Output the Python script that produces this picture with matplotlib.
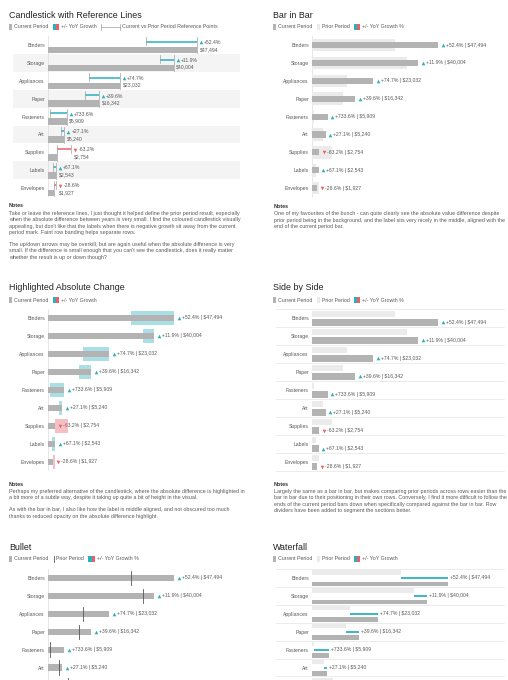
import matplotlib
matplotlib.use("Agg")
import matplotlib.pyplot as plt
from matplotlib.patches import Rectangle
from matplotlib.transforms import offset_copy

W, H = 508, 680

categories = ["Binders", "Storage", "Appliances", "Paper", "Fasteners",
              "Art", "Supplies", "Labels", "Envelopes"]
current = [47494, 40004, 23032, 16342, 5909, 5240, 2754, 2543, 1927]
prior = [31164, 35750, 13184, 11706, 709, 4123, 7484, 1522, 2699]
growth = [52.4, 11.9, 74.7, 39.6, 733.6, 27.1, -63.2, 67.1, -28.6]

GRAY = "#b3b3b3"
LIGHT = "#ebebeb"
TEAL = "#2bb0be"
RED = "#e8606a"
TXT = "#5a5a5a"
DARK = "#222222"

plt.rcParams["font.family"] = ["Liberation Sans", "DejaVu Sans"]

fig = plt.figure(figsize=(W / 100, H / 100), dpi=100)
bg = fig.add_axes([0, 0, 1, 1])
bg.set_zorder(-1)
bg.set_xlim(0, W)
bg.set_ylim(H, 0)
bg.axis("off")
renderer = fig.canvas.get_renderer()

PX = 0.72  # points per pixel at dpi 100


def make_axes(x0, row0, xmax, rowh=17.9, width=192, axline=True):
    top = row0 - 0.5 * rowh
    height = 9 * rowh
    ax = fig.add_axes([x0 / W, 1 - (top + height) / H, width / W, height / H])
    ax.set_facecolor("none")
    ax.set_xlim(0, xmax)
    ax.set_ylim(8.5, -0.5)
    ax.set_yticks(range(len(categories)))
    ax.set_yticklabels(categories, fontsize=3.7, color=TXT)
    ax.tick_params(axis="y", length=0, pad=2.2)
    ax.set_xticks([])
    for s in ax.spines.values():
        s.set_visible(False)
    if axline:
        ax.axvline(0, color="#dcdcdc", lw=0.5, zorder=0.5)
    return ax


def value_label(ax, x, y, g, text, dx=3, arrow=True, z=4):
    col = TEAL if g > 0 else RED
    if arrow:
        tr = offset_copy(ax.transData, fig=fig, x=dx + 1.5, y=0, units="dots")
        ax.plot([x], [y], marker="^" if g > 0 else "v", ms=2.6, color=col,
                mew=0, transform=tr, clip_on=False, zorder=z)
        dx += 4.5
    ax.annotate(text, xy=(x, y), xytext=(dx * PX, 0), textcoords="offset points",
                va="center", ha="left", fontsize=3.7, color=TXT, zorder=z,
                annotation_clip=False)


def title(x, y, s):
    bg.text(x, y, s, fontsize=6.4, color=DARK, va="center", ha="left")


def legend(x, y, items):
    for kind, lab in items:
        if kind == "cur":
            bg.add_patch(Rectangle((x, y - 2.75), 3.4, 5.5, color=GRAY, lw=0))
            x += 3.4
        elif kind == "pri":
            bg.add_patch(Rectangle((x, y - 2.75), 3.4, 5.5, color=LIGHT, lw=0))
            x += 3.4
        elif kind == "grow":
            bg.add_patch(Rectangle((x, y - 2.75), 3.4, 5.5, color=TEAL, lw=0))
            bg.add_patch(Rectangle((x + 3.4, y - 2.75), 3.4, 5.5, color=RED, lw=0))
            x += 6.8
        elif kind == "ref":
            bg.plot([x, x + 19], [y, y], color="#a0a0a0", lw=0.5)
            bg.plot([x, x], [y - 2.7, y + 2.7], color="#a0a0a0", lw=0.5)
            bg.plot([x + 19, x + 19], [y - 2.7, y + 2.7], color="#a0a0a0", lw=0.5)
            x += 19
        elif kind == "priline":
            bg.plot([x + 1, x + 1], [y - 2.75, y + 2.75], color="#555555", lw=0.6)
            x += 2
        x += 1.8
        t = bg.text(x, y, lab, fontsize=3.8, color=TXT, va="center", ha="left")
        x += t.get_window_extent(renderer).width + 4


def notes(x, y, paragraphs, first=7.5, step=6.6, para=11.5):
    bg.text(x, y, "Notes", fontsize=3.85, color="#333333", weight="bold",
            va="center", ha="left")
    y += first
    for p, lines in enumerate(paragraphs):
        if p > 0:
            y += para - step
        for line in lines:
            bg.text(x, y, line, fontsize=3.85, color=TXT, va="center", ha="left")
            y += step


def fmt(g, v):
    return f"{g:+.1f}% | ${v:,}"


n = len(categories)

# ---- Candlestick with Reference Lines
title(9, 15, "Candlestick with Reference Lines")
legend(9, 27, [("cur", "Current Period"), ("grow", "+/- YoY Growth"),
               ("ref", "Current vs Prior Period Reference Points")])
ax1 = make_axes(48, 45, 61200)
for i in range(n):
    if i % 2 == 1:
        ax1.axhspan(i - 0.5, i + 0.5, xmin=-0.182, xmax=1, color="#f4f4f4",
                    lw=0, zorder=0, clip_on=False)
    col = TEAL if growth[i] > 0 else RED
    ax1.barh(i + 0.28, current[i], height=0.36, color=GRAY, zorder=2)
    ax1.plot([prior[i], current[i]], [i - 0.18, i - 0.18], color=col, lw=1.1,
             solid_capstyle="butt", zorder=3)
    ax1.plot([prior[i], prior[i]], [i - 0.42, i + 0.02], color="#a0a0a0", lw=0.5, zorder=3)
    ax1.plot([current[i], current[i]], [i - 0.42, i + 0.46], color="#a0a0a0", lw=0.5, zorder=3)
    xl = max(prior[i], current[i])
    value_label(ax1, xl, i - 0.14, growth[i], f"{growth[i]:+.1f}%", dx=2.5)
    ax1.annotate(f"${current[i]:,}", xy=(xl, i + 0.24), xytext=(2.5 * PX, 0),
                 textcoords="offset points", va="center", ha="left",
                 fontsize=3.7, color=TXT)
notes(9, 205.5, [
    ["Take or leave the reference lines, I just thought it helped define the prior period result, especially",
     "when the absolute difference between years is very small. I find the coloured candlestick visually",
     "appealing, but don't like that the labels when there is negative growth sit away from the current",
     "period mark. Faint row banding helps separate rows."],
    ["The up/down arrows may be overkill, but are again useful when the absolute difference is very",
     "small. If the difference is small enough that you can't see the candlestick, does it really matter",
     "whether the result is up or down though?"],
])

# ---- Bar in Bar
title(273, 15, "Bar in Bar")
legend(273, 27, [("cur", "Current Period"), ("pri", "Prior Period"),
                 ("grow", "+/- YoY Growth %")])
ax2 = make_axes(312, 45, 72370)
for i in range(n):
    ax2.barh(i, prior[i], height=0.7, color=LIGHT, zorder=1)
    ax2.barh(i, current[i], height=0.34, color=GRAY, zorder=2)
    value_label(ax2, current[i], i, growth[i], fmt(growth[i], current[i]))
notes(274, 206, [
    ["One of my favourites of the bunch - can quite clearly see the absolute value difference despite",
     "prior period being in the background, and the label sits very nicely in the middle, aligned with the",
     "end of the current period bar."],
])

# ---- Highlighted Absolute Change
title(9, 287.3, "Highlighted Absolute Change")
legend(9, 300, [("cur", "Current Period"), ("grow", "+/- YoY Growth")])
ax3 = make_axes(48, 318, 72370, rowh=18)
for i in range(n):
    col = TEAL if growth[i] > 0 else RED
    lo = min(prior[i], current[i])
    ax3.barh(i, abs(current[i] - prior[i]), left=lo, height=0.74, color=col,
             alpha=0.4, lw=0, zorder=2)
    ax3.barh(i, current[i], height=0.34, color=GRAY, zorder=3)
    value_label(ax3, current[i], i, growth[i], fmt(growth[i], current[i]), dx=3.5, z=1)
notes(9, 485, [
    ["Perhaps my preferred alternative of the candlestick, where the absolute difference is highlighted in",
     "a bit more of a subtle way, despite it taking up quite a bit of height in the visual."],
    ["As with the bar in bar, I also like how the label is middle aligned, and not obscured too much",
     "thanks to reduced opacity on the absolute difference highlight."],
], first=6.3, para=12)

# ---- Side by Side
title(273, 287.3, "Side by Side")
legend(273, 300, [("cur", "Current Period"), ("pri", "Prior Period"),
                  ("grow", "+/- YoY Growth %")])
ax4 = make_axes(312, 318, 72370, rowh=18, axline=False)
for k in range(n + 1):
    ax4.axhline(k - 0.5, xmin=-0.1875, xmax=1, color="#e4e4e4", lw=0.5,
                zorder=0, clip_on=False)
for i in range(n):
    ax4.barh(i - 0.22, prior[i], height=0.32, color=LIGHT, zorder=1)
    ax4.barh(i + 0.25, current[i], height=0.36, color=GRAY, zorder=2)
    value_label(ax4, current[i], i + 0.25, growth[i], fmt(growth[i], current[i]))
notes(274, 485, [
    ["Largely the same as a bar in bar, but makes comparing prior periods across rows easier than the",
     "bar in bar due to their positioning in their own rows. Conversely, I find it more difficult to follow the",
     "ends of the current period bars down when specifically compared against the bar in bar. Row",
     "dividers have been added to segment the sections better."],
], first=6.3, step=6.45)

# ---- Bullet
title(9, 547, "Bullet")
legend(9, 559, [("cur", "Current Period"), ("priline", "Prior Period"),
                ("grow", "+/- YoY Growth %")])
ax5 = make_axes(48, 578, 72370)
for i in range(n):
    ax5.barh(i, current[i], height=0.34, color=GRAY, zorder=2)
    ax5.plot([prior[i], prior[i]], [i - 0.4, i + 0.4], color="#555555", lw=0.6, zorder=3)
    value_label(ax5, current[i], i, growth[i], fmt(growth[i], current[i]), dx=3.5)

# ---- Waterfall
title(273, 547, "Waterfall")
legend(273, 559, [("cur", "Current Period"), ("pri", "Prior Period"),
                  ("grow", "+/- YoY Growth")])
ax6 = make_axes(312, 578, 67050, axline=False)
for k in range(n + 1):
    ax6.axhline(k - 0.5, xmin=-0.1875, xmax=1, color="#e4e4e4", lw=0.5,
                zorder=0, clip_on=False)
for i in range(n):
    col = TEAL if growth[i] > 0 else RED
    ax6.barh(i - 0.31, prior[i], height=0.25, color=LIGHT, zorder=1)
    ax6.barh(i + 0.33, current[i], height=0.25, color=GRAY, zorder=1)
    ax6.plot([prior[i], current[i]], [i, i], color=col, lw=1.3,
             solid_capstyle="butt", zorder=2)
    value_label(ax6, max(prior[i], current[i]), i, growth[i],
                fmt(growth[i], current[i]), dx=2, arrow=False)

fig.savefig("out.png", dpi=100)
